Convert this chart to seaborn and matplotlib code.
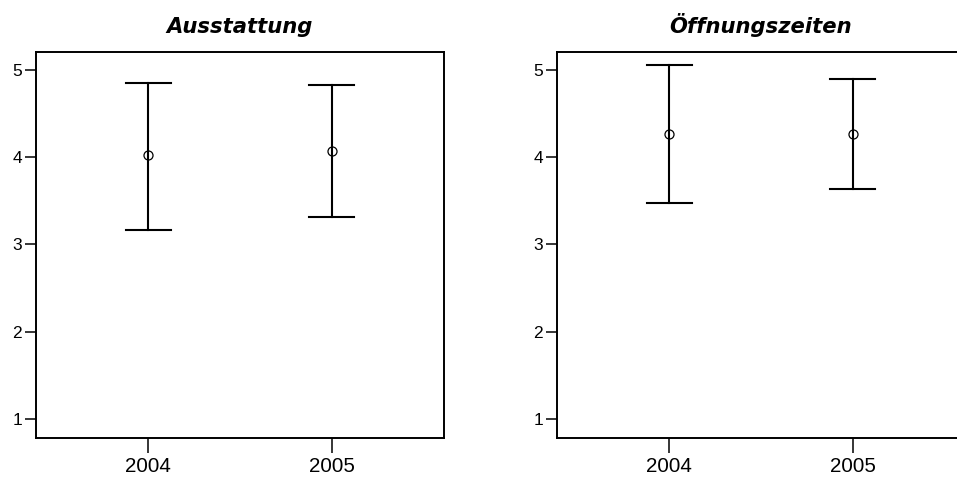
import matplotlib
matplotlib.use("Agg")
import matplotlib.pyplot as plt
import seaborn as sns
import pandas as pd

# ---- data ----
years = ["2004", "2005"]
titles = ["Ausstattung", "Öffnungszeiten"]
ausstattung_mean = [4.02, 4.07]
ausstattung_lo = [3.17, 3.31]
ausstattung_hi = [4.85, 4.83]
oeffnung_mean = [4.26, 4.27]
oeffnung_lo = [3.47, 3.64]
oeffnung_hi = [5.06, 4.90]
yticks = [1, 2, 3, 4, 5]


def make_frame(lo, mean, hi):
    rows = []
    for i, y in enumerate(years):
        for v in (lo[i], mean[i], hi[i]):
            rows.append({"Jahr": y, "Wert": v})
    return pd.DataFrame(rows)


frames = [make_frame(ausstattung_lo, ausstattung_mean, ausstattung_hi),
          make_frame(oeffnung_lo, oeffnung_mean, oeffnung_hi)]

plt.rcParams["font.family"] = ["Liberation Sans", "DejaVu Sans"]

fig = plt.figure(figsize=(9.57, 4.79), dpi=100)
W, H = 957, 479
axes_px = [(36, 51.7, 408, 385.8), (557, 51.7, 408, 385.8)]

for (x0, y0, w, h), df, title in zip(axes_px, frames, titles):
    ax = fig.add_axes([x0 / W, 1 - (y0 + h) / H, w / W, h / H])
    sns.pointplot(
        data=df, x="Jahr", y="Wert", order=years,
        estimator="median",
        errorbar=lambda v: (v.min(), v.max()),
        color="black", linestyle="none", marker="o",
        markersize=6.5, markeredgewidth=0.9, markerfacecolor="none",
        capsize=0.245, err_kws={"linewidth": 1.5}, ax=ax,
    )
    ax.set_xlim(-0.61, 1.61)
    ax.set_ylim(0.788, 5.207)
    ax.set_yticks(yticks)
    ax.set_yticklabels([str(t) for t in yticks])
    ax.set_xlabel("")
    ax.set_ylabel("")
    for sp in ax.spines.values():
        sp.set_visible(True)
        sp.set_linewidth(1.4)
        sp.set_color("black")
    ax.tick_params(axis="x", length=10.8, width=1.1, pad=3.5, labelsize=14.8)
    ax.tick_params(axis="y", length=8, width=1.1, pad=2, labelsize=12.5)
    ax.grid(False)
    ax.set_title(title, fontsize=15.2, fontweight="bold", fontstyle="italic",
                 family=["DejaVu Sans"], pad=13.5)

fig.savefig("out.png", dpi=100)
